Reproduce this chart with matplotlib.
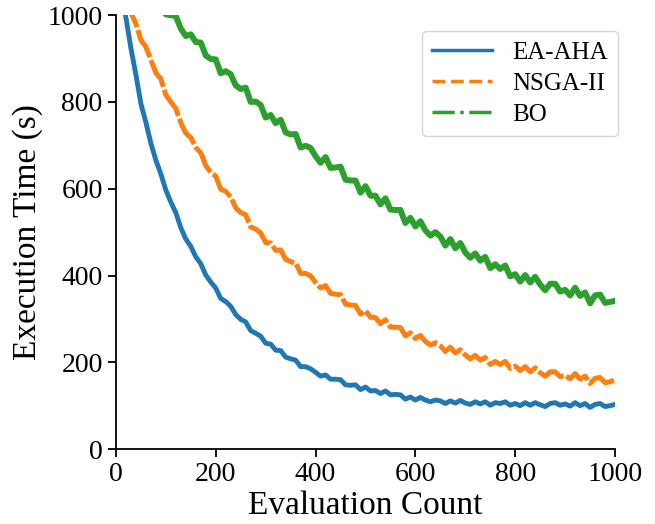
import matplotlib.pyplot as plt
from matplotlib.lines import Line2D

plt.rcParams['font.family'] = ['Liberation Serif', 'DejaVu Serif']

eval_count = list(range(0, 1001, 10))

ea_aha = [1132, 1057, 994, 924, 863, 796, 753, 705, 666, 634,
          597, 569, 545, 510, 484, 467, 443, 427, 401, 385,
          371, 347, 340, 329, 310, 299, 293, 273, 267, 260,
          244, 242, 228, 227, 212, 208, 205, 190, 190, 185,
          177, 168, 171, 161, 161, 160, 148, 147, 148, 137,
          143, 134, 135, 128, 134, 125, 126, 125, 115, 120,
          113, 119, 113, 109, 113, 111, 105, 111, 106, 112,
          106, 103, 109, 104, 109, 101, 107, 105, 109, 101,
          105, 100, 107, 101, 107, 102, 98, 105, 107, 101,
          104, 99, 107, 100, 105, 96, 103, 105, 98, 100,
          103]

nsga_ii = [1103, 1063, 1043, 1006, 980, 943, 927, 897, 867, 853,
           816, 800, 785, 752, 728, 718, 695, 683, 653, 638,
           629, 599, 594, 581, 556, 545, 540, 512, 507, 498,
           476, 475, 458, 459, 437, 432, 429, 405, 405, 399,
           384, 371, 377, 359, 357, 356, 334, 332, 331, 311,
           319, 304, 303, 289, 298, 281, 281, 280, 261, 268,
           255, 262, 248, 240, 245, 238, 225, 235, 222, 229,
           217, 208, 216, 205, 211, 195, 202, 195, 202, 186,
           191, 181, 190, 178, 187, 176, 168, 178, 178, 167,
           170, 162, 174, 161, 168, 151, 163, 165, 153, 155,
           160]

bo = [1135, 1111, 1115, 1092, 1085, 1059, 1065, 1047, 1028, 1032,
      1002, 1000, 998, 969, 952, 956, 938, 937, 907, 899,
      898, 866, 871, 864, 838, 830, 833, 800, 801, 793,
      764, 770, 751, 759, 730, 725, 726, 695, 699, 694,
      675, 660, 673, 648, 649, 651, 621, 619, 619, 591,
      606, 584, 584, 564, 578, 552, 551, 551, 521, 533,
      513, 525, 504, 492, 500, 490, 469, 484, 463, 475,
      453, 441, 451, 434, 443, 417, 426, 415, 423, 398,
      403, 386, 401, 384, 397, 379, 366, 381, 381, 363,
      367, 354, 372, 353, 361, 336, 354, 356, 337, 339,
      342]

colors = ['#1f77b4', '#ff7f0e', '#2ca02c']
names = ['EA-AHA', 'NSGA-II', 'BO']

fig = plt.figure(figsize=(6.55, 5.24), dpi=100)
ax = fig.add_axes([0.177, 0.143, 0.762, 0.828])

# noisy dense curves hide most of the dash gaps, so draw the data nearly solid
ax.plot(eval_count, ea_aha, color=colors[0], linewidth=3.5, solid_joinstyle='round')
ax.plot(eval_count, nsga_ii, color=colors[1], linewidth=3.6, linestyle=(0, (6, 0.6)),
        dash_joinstyle='round')
ax.plot(eval_count, bo, color=colors[2], linewidth=4.3, solid_joinstyle='round')

ax.set_xlim(0, 1000)
ax.set_ylim(0, 1000)
ax.set_xticks([0, 200, 400, 600, 800, 1000])
ax.set_yticks([0, 200, 400, 600, 800, 1000])
ax.tick_params(labelsize=20, length=6, width=1.3)
ax.spines['top'].set_visible(False)
ax.spines['right'].set_visible(False)
ax.spines['left'].set_linewidth(1.3)
ax.spines['bottom'].set_linewidth(1.3)

ax.set_xlabel('Evaluation Count', fontsize=24, labelpad=2)
ax.set_ylabel('Execution Time (s)', fontsize=24, labelpad=3)

handles = [Line2D([], [], color=colors[0], linestyle='-', linewidth=2.5),
           Line2D([], [], color=colors[1], linestyle='--', linewidth=2.5),
           Line2D([], [], color=colors[2], linestyle='-.', linewidth=2.5)]
ax.legend(handles, names, loc='upper right', fontsize=18, handlelength=2.4,
          labelspacing=0.35, borderaxespad=0, bbox_to_anchor=(1.006, 0.963))

fig.savefig('out.png', dpi=100)
